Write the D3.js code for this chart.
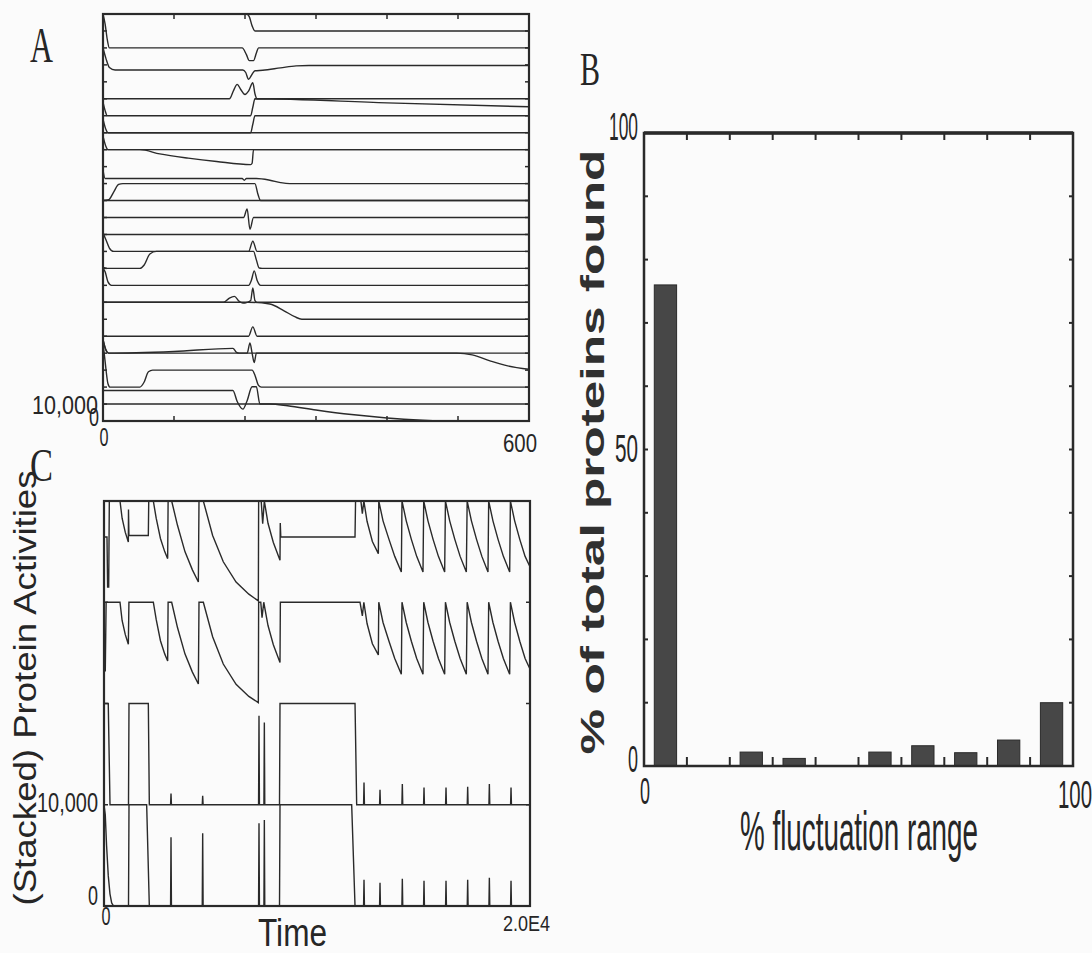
<!DOCTYPE html>
<html>
<head>
<meta charset="utf-8">
<script src="https://cdn.jsdelivr.net/npm/d3@7"></script>
<style>
  html, body { margin: 0; padding: 0; background: #fbfbfb; }
  svg { display: block; }
</style>
</head>
<body>
<svg id="fig" width="1092" height="953"></svg>
<script>
// ---------- Panel A: stacked protein traces over 0..600 ----------
const aTimeDomain = [0, 600];
const aRowUnit = 10000;           // one stacked row = 10,000 activity units
const aRows = 24;
// base row of each trace (offset = base * 10,000)
const aBases = [23, 22, 21, 19, 18, 17, 17, 16, 16, 14, 13, 13, 12, 11, 10, 9, 8, 7, 6, 5, 4, 3, 2, 1, 0];
// activity of each trace, [time, value] relative to its base row
const aSeries = [
  [[0,10000],[202,10000],[206,8500],[210,3000],[214,0],[600,0]],
  [[0,20000],[3,14000],[6,5000],[9,0],[196,0],[202,-4000],[206,-7500],[212,-7500],[216,-3000],[219,0],[600,0]],
  [[0,10000],[4,4000],[9,-1500],[17,-3000],[197,-3000],[201,-4500],[205,-8500],[210,-5500],[214,-3500],[225,-3200],[250,-1800],[272,-600],[290,-400],[600,-400]],
  [[0,0],[178,0],[184,5000],[189,8500],[194,5500],[200,2500],[205,4500],[211,9500],[214,3000],[217,0],[600,0]],
  [[0,8000],[3,3000],[6,0],[208,0],[211,5000],[214,10000],[400,7600],[600,5300]],
  [[0,8000],[4,2000],[7,0],[208,0],[211,5000],[214,10000],[600,10000]],
  [[0,0],[600,0]],
  [[0,8000],[4,2000],[7,0],[52,0],[80,-2500],[120,-5000],[160,-7000],[208,-8800],[210,-8000],[212,0],[600,0]],
  [[0,0],[600,0]],
  [[0,8000],[3,3000],[7,3000],[196,3000],[199,2000],[202,3000],[216,3000],[235,2000],[250,600],[263,0],[600,0]],
  [[0,0],[8,500],[15,5000],[22,9500],[28,10000],[214,10000],[218,4000],[222,0],[600,0]],
  [[0,0],[600,0]],
  [[0,0],[198,0],[203,5000],[207,-7000],[212,0],[600,0]],
  [[0,0],[600,0]],
  [[0,11000],[4,7000],[9,2000],[15,0],[205,0],[211,6000],[217,0],[600,0]],
  [[0,500],[5,0],[52,0],[58,2000],[66,8500],[75,10000],[212,10000],[216,5000],[220,200],[224,0],[600,0]],
  [[0,10000],[3,8000],[7,2000],[12,0],[205,0],[209,3000],[213,8500],[217,3000],[222,0],[600,0]],
  [[0,0],[170,0],[178,2500],[185,3500],[192,500],[197,-500],[203,0],[208,1000],[211,8500],[214,1000],[217,0],[600,0]],
  [[0,10000],[205,10000],[235,9000],[255,5000],[270,1500],[280,0],[600,0]],
  [[0,0],[205,0],[211,5500],[217,0],[600,0]],
  [[0,8000],[4,2000],[8,0],[100,1000],[183,2800],[188,500],[192,0],[600,0]],
  [[0,18000],[4,12000],[8,10000],[203,10000],[207,16000],[210,10000],[213,4500],[216,10000],[498,10000],[520,9000],[545,5500],[570,2500],[600,500]],
  [[0,26000],[3,15000],[7,2000],[10,0],[52,0],[58,3000],[64,9000],[70,10000],[210,10000],[214,7000],[219,1000],[223,0],[600,0]],
  [[0,8000],[183,8000],[189,1500],[197,-3000],[203,2000],[210,10200],[216,10200],[221,0],[600,0]],
  [[0,10000],[235,10000],[260,9000],[300,6500],[350,3800],[400,1800],[450,500],[480,0],[600,0]]
];
const aXTicks = [100, 200, 300, 400, 500];

// ---------- Panel B: histogram of fluctuation ranges ----------
const bBins = ["0-10","10-20","20-30","30-40","40-50","50-60","60-70","70-80","80-90","90-100"];
const bPercent = [76, 0, 2.2, 1.2, 0, 2.2, 3.2, 2.1, 4.1, 10];
const bTicks = [10, 20, 30, 40, 50, 60, 70, 80, 90];

// ---------- Panel C: four stacked activities over 0..2.0E4 ----------
const cTimeDomain = [0, 20000];
const cBases = [3, 2, 1, 0];
const cTop = [
  [0,6450],[140,6450],[170,1500],[220,1500],[250,10000],
  [751,10000],[850,8300],[1000,6900],[1143,5950],
  [1150,9150],[1170,6600],[2081,6600],[2100,10000],[2316,10000],
  [2450,8300],[2650,6300],[2850,5000],[2989,4310],[3010,10000],[3177,10000],
  [3450,7600],[3800,5000],[4150,3200],[4430,2000],[4460,10000],[4664,10000],
  [5100,6600],[5600,4000],[6200,2000],[6800,800],[7246,130],[7260,10000],[7380,10000],[7450,7770],[7528,10000],
  [7700,7800],[7950,5900],[8263,4150],[8275,7830],[8300,6450],[11785,6450],[11810,10000],[12060,10000],[12129,8750],[12200,10000],
  [12350,8000],[12600,6000],[12880,4800],[12900,10000],
  [13100,8040],[13380,6210],[13650,4530],[13959,2990],[13990,10000],
  [14190,8040],[14430,6210],[14680,4530],[14976,2990],[15010,10000],
  [15210,8040],[15450,6210],[15700,4530],[15994,2990],[16030,10000],
  [16230,8040],[16470,6210],[16720,4530],[17011,2990],[17050,10000],
  [17250,8040],[17490,6210],[17740,4530],[18028,2990],[18060,10000],
  [18260,8040],[18500,6210],[18750,4530],[19046,2990],[19080,10000],
  [19280,8040],[19520,6210],[19770,4530],[20000,3500]
];
const cMid = [
  [0,3220],[60,3220],[100,10000],[751,10000],[850,8200],[1000,6800],[1143,5850],[1170,10000],[2316,10000],
  [2450,8300],[2650,6200],[2850,4900],[2989,4200],[3010,10000],[3177,10000],
  [3450,7500],[3800,4900],[4150,3100],[4430,1930],[4460,10000],[4664,10000],
  [5100,6600],[5600,3900],[6200,1900],[6800,700],[7246,90],[7260,10000],[7360,10000],[7420,8480],[7500,10000],
  [7700,7700],[7950,5800],[8263,4040],[8280,10000],[12019,10000],[12129,8650],[12200,10000],
  [12350,7900],[12600,5900],[12880,4800],[12900,10000],
  [13100,8000],[13380,6150],[13650,4450],[13959,2890],[13990,10000],
  [14190,8000],[14430,6150],[14680,4450],[14976,2890],[15010,10000],
  [15210,8000],[15450,6150],[15700,4450],[15994,2890],[16030,10000],
  [16230,8000],[16470,6150],[16720,4450],[17011,2890],[17050,10000],
  [17250,8000],[17490,6150],[17740,4450],[18028,2890],[18060,10000],
  [18260,8000],[18500,6150],[18750,4450],[19046,2890],[19080,10000],
  [19280,8000],[19520,6150],[19770,4450],[20000,3400]
];
const cSecond = [
  [0,10000],[200,10000],[282,0],[1150,0],[1174,10000],[2081,10000],[2128,0],
  [3126,0],[3146,1120],[3166,0],[4613,0],[4633,890],[4653,0],
  [7257,0],[7277,8790],[7297,0],[7508,0],[7528,8120],[7548,0],
  [8240,0],[8263,10000],[11785,10000],[11863,0],
  [12187,0],[12207,2200],[12227,0],[12938,0],[12958,1480],[12978,0],
  [13986,0],[14006,2040],[14026,0],[15004,0],[15024,1710],[15044,0],
  [16037,0],[16057,1710],[16077,0],[17054,0],[17074,1780],[17094,0],
  [18072,0],[18092,2040],[18112,0],[19089,0],[19109,1710],[19129,0],[20000,0]
];
const cBottom = [
  [0,10000],[60,9000],[120,6000],[200,3000],[280,1200],[360,300],[450,0],
  [1150,0],[1174,10000],[2003,10000],[2128,0],
  [3126,0],[3146,6790],[3166,0],[4613,0],[4633,7190],[4653,0],
  [7257,0],[7277,8170],[7297,0],[7508,0],[7528,8500],[7548,0],
  [8240,0],[8263,10000],[11628,10000],[11785,0],
  [12187,0],[12207,2600],[12227,0],[12938,0],[12958,2300],[12978,0],
  [13986,0],[14006,2700],[14026,0],[15004,0],[15024,2500],[15044,0],
  [16037,0],[16057,2500],[16077,0],[17054,0],[17074,2600],[17094,0],
  [18072,0],[18092,2800],[18112,0],[19089,0],[19109,2500],[19129,0],[20000,0]
];
const cSeries = [cTop, cMid, cSecond, cBottom];

// ---------- drawing ----------
const ink = "#2a2a2a";
const svg = d3.select("#fig");

// condensed text helper: squeezes the glyphs to a given run length
function label(g, str, o) {
  const t = g.append("text")
    .attr("font-family", o.family || "'Liberation Sans', Arial, sans-serif")
    .attr("font-size", o.size)
    .attr("font-weight", o.weight || "normal")
    .attr("fill", o.fill || "#262626")
    .attr("text-anchor", o.anchor || "start")
    .text(str);
  if (o.length) t.attr("textLength", o.length).attr("lengthAdjust", "spacingAndGlyphs");
  if (o.rotate) {
    t.attr("transform", `translate(${o.x},${o.y}) rotate(-90) scale(1,${o.squeeze || 1})`);
  } else {
    t.attr("x", o.x).attr("y", o.y);
  }
  return t;
}

function frame(g, x0, x1, y0, y1, w) {
  g.append("rect").attr("x", x0).attr("y", y0)
    .attr("width", x1 - x0).attr("height", y1 - y0)
    .attr("fill", "none").attr("stroke", ink).attr("stroke-width", w);
}

// ---- Panel A ----
(function () {
  const g = svg.append("g");
  const x = d3.scaleLinear().domain(aTimeDomain).range([103, 529]);
  const y = d3.scaleLinear().domain([0, aRows * aRowUnit]).range([421, 14]);
  const line = d3.line()
    .x(d => x(d[0]))
    .y(d => y(d[1]))
    .curve(d3.curveMonotoneX);
  g.append("defs").append("clipPath").attr("id", "clipA")
    .append("rect").attr("x", 103).attr("y", 14).attr("width", 426).attr("height", 407);
  const traces = g.append("g").attr("clip-path", "url(#clipA)");
  aSeries.forEach((s, i) => {
    const off = aBases[i] * aRowUnit;
    traces.append("path")
      .datum(s.map(p => [p[0], p[1] + off]))
      .attr("d", line)
      .attr("fill", "none").attr("stroke", ink).attr("stroke-width", 1.4);
  });
  // ticks
  const tk = g.append("g").attr("stroke", ink).attr("stroke-width", 1.5);
  aXTicks.forEach(v => {
    tk.append("line").attr("x1", x(v)).attr("x2", x(v)).attr("y1", 421).attr("y2", 416);
    tk.append("line").attr("x1", x(v)).attr("x2", x(v)).attr("y1", 14).attr("y2", 19);
  });
  d3.range(1, aRows).forEach(r => {
    tk.append("line").attr("x1", 103).attr("x2", 107).attr("y1", y(r * aRowUnit)).attr("y2", y(r * aRowUnit));
    tk.append("line").attr("x1", 529).attr("x2", 525).attr("y1", y(r * aRowUnit)).attr("y2", y(r * aRowUnit));
  });
  frame(g, 103, 529, 14, 421, 2.2);

  label(g, "A", { x: 30, y: 62, size: 50, family: "'Liberation Serif', 'Times New Roman', serif", length: 23 });
  label(g, "10,000", { x: 98, y: 414, size: 26, anchor: "end", length: 66 });
  label(g, "0", { x: 99, y: 426, size: 25, anchor: "end", length: 10 });
  label(g, "0", { x: 104, y: 446, size: 25, anchor: "middle", length: 9 });
  label(g, "600", { x: 520, y: 452, size: 26, anchor: "middle", length: 34 });
})();

// ---- Panel B ----
(function () {
  const g = svg.append("g");
  const x = d3.scaleLinear().domain([0, 100]).range([644, 1073]);
  const band = d3.scaleBand().domain(bBins).range([644, 1073]).paddingInner(0.48).paddingOuter(0.24);
  const y = d3.scaleLinear().domain([0, 100]).range([766, 133]);

  g.selectAll("rect.bar").data(bBins.map((b, i) => ({ bin: b, v: bPercent[i] })).filter(d => d.v > 0))
    .enter().append("rect").attr("class", "bar")
    .attr("x", d => band(d.bin)).attr("width", band.bandwidth())
    .attr("y", d => y(d.v)).attr("height", d => y(0) - y(d.v))
    .attr("fill", "#474747").attr("stroke", "#2a2a2a").attr("stroke-width", 1);

  const tk = g.append("g").attr("stroke", ink).attr("stroke-width", 2);
  bTicks.forEach(v => {
    tk.append("line").attr("x1", x(v)).attr("x2", x(v)).attr("y1", 766).attr("y2", 757);
    tk.append("line").attr("x1", x(v)).attr("x2", x(v)).attr("y1", 133).attr("y2", 140);
    tk.append("line").attr("x1", 644).attr("x2", 648).attr("y1", y(v)).attr("y2", y(v));
    tk.append("line").attr("x1", 1073).attr("x2", 1069).attr("y1", y(v)).attr("y2", y(v));
  });
  frame(g, 644, 1073, 133, 766, 2.5);
  g.append("line").attr("x1", 644).attr("x2", 1073).attr("y1", 133).attr("y2", 133)
    .attr("stroke", ink).attr("stroke-width", 3.5);

  label(g, "B", { x: 580, y: 85, size: 46, family: "'Liberation Serif', 'Times New Roman', serif", length: 20 });
  label(g, "100", { x: 638, y: 140, size: 38, anchor: "end", length: 29 });
  label(g, "50", { x: 638, y: 462, size: 38, anchor: "end", length: 23 });
  label(g, "0", { x: 638, y: 772, size: 36, anchor: "end", length: 10 });
  label(g, "0", { x: 645, y: 804, size: 36, anchor: "middle", length: 10 });
  label(g, "100", { x: 1058, y: 808, size: 38, length: 34 });
  label(g, "% fluctuation range", { x: 740, y: 850, size: 55, length: 238 });
  label(g, "% of total proteins found", {
    x: 604, y: 452, size: 51, weight: "bold", anchor: "middle", length: 605,
    rotate: true, squeeze: 0.66, fill: "#303030"
  });
})();

// ---- Panel C ----
(function () {
  const g = svg.append("g");
  const x = d3.scaleLinear().domain(cTimeDomain).range([104, 530]);
  const y = d3.scaleLinear().domain([0, 40000]).range([906, 501]);
  const line = d3.line().x(d => x(d[0])).y(d => y(d[1])).curve(d3.curveLinear);
  g.append("defs").append("clipPath").attr("id", "clipC")
    .append("rect").attr("x", 104).attr("y", 501).attr("width", 426).attr("height", 405);
  const traces = g.append("g").attr("clip-path", "url(#clipC)");
  cSeries.forEach((s, i) => {
    const off = cBases[i] * 10000;
    traces.append("path")
      .datum(s.map(p => [p[0], p[1] + off]))
      .attr("d", line)
      .attr("fill", "none").attr("stroke", ink).attr("stroke-width", 1.4);
  });
  const tk = g.append("g").attr("stroke", ink).attr("stroke-width", 1.5);
  [10000, 20000, 30000].forEach(v => {
    tk.append("line").attr("x1", 104).attr("x2", 108).attr("y1", y(v)).attr("y2", y(v));
    tk.append("line").attr("x1", 530).attr("x2", 526).attr("y1", y(v)).attr("y2", y(v));
  });
  frame(g, 104, 530, 501, 906, 2.2);

  label(g, "C", { x: 30, y: 481, size: 46, family: "'Liberation Serif', 'Times New Roman', serif", length: 23 });
  label(g, "10,000", { x: 98, y: 812, size: 27, anchor: "end", length: 61 });
  label(g, "0", { x: 98, y: 905, size: 27, anchor: "end", length: 10 });
  label(g, "0", { x: 106, y: 925, size: 25, anchor: "middle", length: 9 });
  label(g, "2.0E4", { x: 503, y: 931, size: 22, length: 47 });
  label(g, "Time", { x: 258, y: 946, size: 38, length: 69 });
  label(g, "(Stacked) Protein Activities", {
    x: 36, y: 688, size: 36, anchor: "middle", length: 435,
    rotate: true, squeeze: 0.85
  });
})();
</script>
</body>
</html>
